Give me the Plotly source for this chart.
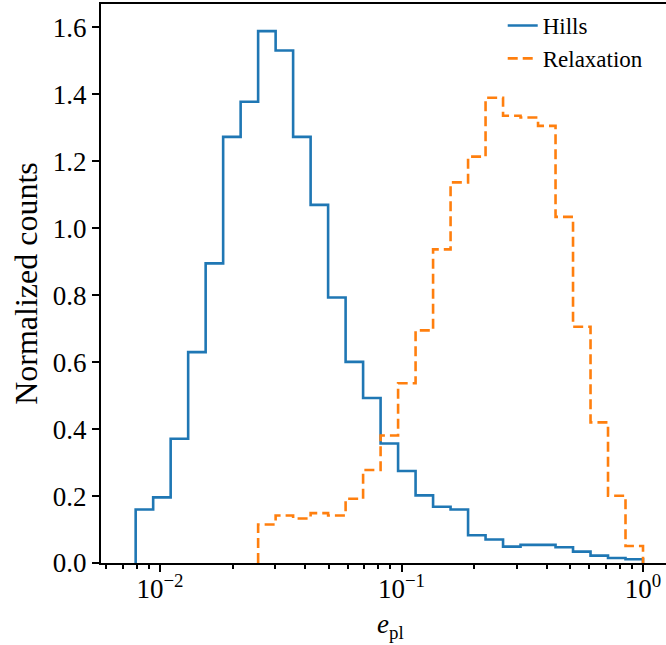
import numpy as np
import plotly.graph_objects as go

# ---- data ----
e_min = 0.00793
e_max = 1.0
n_bins = 29

hills = [0.160, 0.196, 0.371, 0.630, 0.895, 1.273, 1.378, 1.589, 1.531, 1.273,
         1.070, 0.793, 0.601, 0.493, 0.357, 0.275, 0.202, 0.168, 0.160, 0.083,
         0.070, 0.049, 0.054, 0.054, 0.047, 0.034, 0.022, 0.015, 0.011]
relaxation = [0, 0, 0, 0, 0, 0, 0, 0.115, 0.142, 0.133,
              0.149, 0.142, 0.192, 0.278, 0.381, 0.537, 0.695, 0.937, 1.137, 1.214,
              1.390, 1.336, 1.331, 1.306, 1.034, 0.706, 0.420, 0.201, 0.051]

y_ticks = [0.0, 0.2, 0.4, 0.6, 0.8, 1.0, 1.2, 1.4, 1.6]
x_ticks = [0.01, 0.1, 1.0]
x_ticktext = ["10<sup>\u22122</sup>", "10<sup>\u22121</sup>", "10<sup>0</sup>"]

edges = np.logspace(np.log10(e_min), np.log10(e_max), n_bins + 1)


def step_path(edges, vals):
    vals = list(vals)
    start = next(i for i, v in enumerate(vals) if v > 0)
    xs = [edges[start]] + list(edges[start:]) + [edges[-1]]
    ys = [0] + vals[start:] + [0, 0]
    return xs, ys


FONT = "Liberation Serif"
fig = go.Figure()

hx, hy = step_path(edges, hills)
rx, ry = step_path(edges, relaxation)

fig.add_trace(go.Scatter(x=hx, y=hy, mode="lines", line_shape="hv",
                         line=dict(color="#1f77b4", width=2.6),
                         name="Hills"))
fig.add_trace(go.Scatter(x=rx, y=ry, mode="lines", line_shape="hv",
                         line=dict(color="#ff7f0e", width=2.6, dash="10px,5px"),
                         name="Relaxation"))

minor_vals = []
for d in [0.001, 0.01, 0.1, 1.0]:
    for k in range(2, 10):
        minor_vals.append(d * k)

fig.update_layout(
    width=666, height=645,
    margin=dict(l=101, r=0, t=4, b=82),
    plot_bgcolor="white", paper_bgcolor="white",
    font=dict(family=FONT, size=27, color="black"),
    showlegend=True,
    legend=dict(x=0.711, y=1.0, xanchor="left", yanchor="top",
                font=dict(size=23), bgcolor="rgba(0,0,0,0)"),
    xaxis=dict(type="log", range=[-2.2443, 0.0952], automargin=False,
               tickvals=x_ticks, ticktext=x_ticktext,
               ticks="outside", ticklen=7, tickwidth=2, tickcolor="black",
               ticklabelstandoff=-6,
               showline=True, linewidth=2, linecolor="black", mirror=True,
               showgrid=False, zeroline=False,
               minor=dict(tickvals=minor_vals, ticks="outside", ticklen=4,
                          tickwidth=1.5, tickcolor="black", showgrid=False),
               tickfont=dict(size=27)),
    yaxis=dict(range=[0, 1.67], tickvals=y_ticks, automargin=False,
               ticktext=[f"{v:.1f}" for v in y_ticks],
               ticks="outside", ticklen=7, tickwidth=2, tickcolor="black",
               showline=True, linewidth=2, linecolor="black",
               showgrid=False, zeroline=False,
               title=dict(text="Normalized counts", standoff=6),
               tickfont=dict(size=27)),
)
fig.add_annotation(text="<i>e</i><sub>pl</sub>", xref="paper", yref="paper",
                   x=(390 - 101) / 565, y=(563 - 645) / 559,
                   xanchor="center", yanchor="bottom", showarrow=False,
                   font=dict(family=FONT, size=27))

fig.write_html("out.html", config={"displayModeBar": False},
               post_script="document.body.style.margin='0px';")
